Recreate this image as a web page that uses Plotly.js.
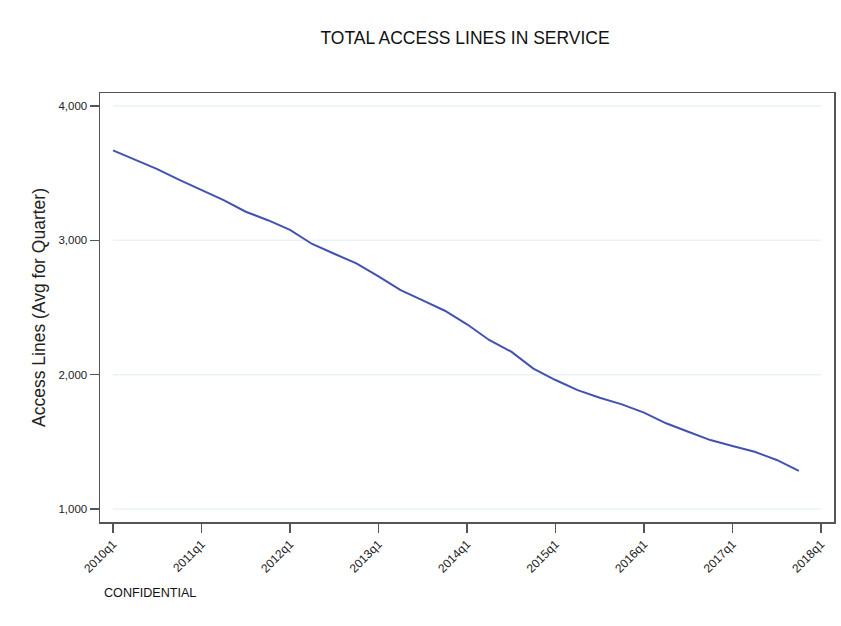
<!DOCTYPE html>
<html>
<head>
<meta charset="utf-8">
<script src="https://cdn.plot.ly/plotly-3.0.1.min.js"></script>
<style>html,body{margin:0;padding:0;background:#fff;}#chart{width:841px;height:626px;}</style>
</head>
<body>
<div id="chart"></div>
<script>
// Quarter index (0 = 2010q1)
const quarterIndex = [0,1,2,3,4,5,6,7,8,9,10,11,12,13,14,15,16,17,18,19,20,21,22,23,24,25,26,27,28,29,30,31];
const accessLines = [3670,3600,3530,3450,3375,3300,3213,3150,3078,2973,2900,2829,2732,2630,2553,2476,2375,2258,2171,2045,1960,1885,1828,1779,1717,1638,1575,1513,1469,1426,1365,1283];
const xTickVals = [0,4,8,12,16,20,24,28,32];
const xTickText = ["2010q1","2011q1","2012q1","2013q1","2014q1","2015q1","2016q1","2017q1","2018q1"];
const yTickVals = [1000,2000,3000,4000];
const yTickText = ["1,000","2,000","3,000","4,000"];

const gridShapes = yTickVals.map(v => ({
  type: 'line', xref: 'x', yref: 'y',
  x0: xTickVals[0], x1: xTickVals[xTickVals.length-1], y0: v, y1: v,
  line: {color: '#eaf3f4', width: 1.5}, layer: 'below'
}));

const trace = {
  x: quarterIndex, y: accessLines, type: 'scatter', mode: 'lines',
  line: {color: '#4352b0', width: 2}, hoverinfo: 'skip'
};

const layout = {
  width: 841, height: 626,
  margin: {l: 100, r: 7, t: 93, b: 104},
  paper_bgcolor: '#fff', plot_bgcolor: '#fff',
  font: {family: 'Liberation Sans, Arial, sans-serif', color: '#222'},
  title: {text: 'TOTAL ACCESS LINES IN SERVICE', font: {size: 17.5, color: '#111'}, x: 0.553, xanchor: 'center', y: 0.94, yanchor: 'middle'},
  showlegend: false,
  xaxis: {
    range: [-0.588, 32.588], tickvals: xTickVals, ticktext: xTickText, tickangle: -45,
    showgrid: false, zeroline: false, showline: true, linecolor: '#555', linewidth: 1.5, mirror: true,
    ticks: 'outside', ticklen: 9, tickcolor: '#555', tickwidth: 1.5,
    tickfont: {size: 12, color: '#222'}
  },
  yaxis: {
    range: [903, 4097], tickvals: yTickVals, ticktext: yTickText,
    showgrid: false, zeroline: false, showline: true, linecolor: '#555', linewidth: 1.5, mirror: true,
    ticks: 'outside', ticklen: 9, tickcolor: '#555', tickwidth: 1.5,
    tickfont: {size: 11.5, color: '#222'},
    title: {text: 'Access Lines (Avg for Quarter)', font: {size: 17.5, color: '#222'}, standoff: 8}
  },
  shapes: gridShapes,
  annotations: [{
    text: 'CONFIDENTIAL', xref: 'paper', yref: 'paper', x: 0.003, y: -0.165,
    xanchor: 'left', yanchor: 'middle', showarrow: false, font: {size: 12.6, color: '#111'}
  }]
};

Plotly.newPlot('chart', [trace], layout, {displayModeBar: false, staticPlot: true});
</script>
</body>
</html>
